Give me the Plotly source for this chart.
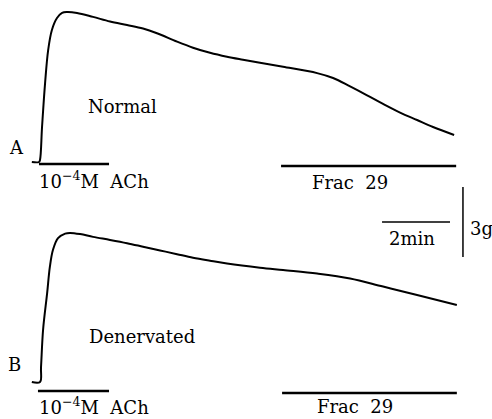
import plotly.graph_objects as go

# ---- data (time in min, tension in g) ----
t_a = [-0.24, -0.03, 0.0, 0.06, 0.15, 0.24, 0.35, 0.50, 0.65, 0.79, 1.09, 1.56, 2.06, 2.56, 3.03,
       3.44, 4.03, 4.50, 5.00, 5.50, 5.97, 6.47, 7.15, 8.15, 8.62, 9.12, 9.62, 10.09, 10.59,
       11.09, 11.56, 12.18]
g_a = [0.0, 0.0, 0.09, 1.50, 3.39, 4.80, 5.66, 6.17, 6.39, 6.43, 6.39, 6.22, 6.02, 5.87, 5.72,
       5.52, 5.16, 4.90, 4.68, 4.51, 4.38, 4.25, 4.08, 3.81, 3.60, 3.24, 2.86, 2.49, 2.12,
       1.80, 1.50, 1.16]

t_b = [-0.24, 0.0, 0.03, 0.09, 0.21, 0.29, 0.38, 0.53, 0.74, 0.88, 1.18, 1.56, 2.06, 2.56, 3.03,
       3.53, 4.03, 4.50, 5.00, 5.50, 6.47, 7.15, 8.15, 9.12, 10.09, 11.09, 12.26]
g_b = [0.0, 0.0, 0.64, 2.23, 3.81, 4.93, 5.66, 6.17, 6.36, 6.39, 6.34, 6.22, 6.09, 5.95, 5.80,
       5.64, 5.48, 5.33, 5.20, 5.08, 4.90, 4.80, 4.65, 4.44, 4.09, 3.73, 3.30]

ach_a = [-0.03, 2.03]
frac_a = [7.09, 12.24]
ach_b = [-0.06, 2.03]
frac_b = [7.12, 12.26]

scale_t = 2.0   # min
scale_g = 3.0   # g

labels = {"A": "A", "B": "B", "norm": "Normal", "den": "Denervated",
          "ach": "10<sup>−4</sup>M  ACh", "frac": "Frac  29", "min": "2min", "g": "3g"}

# ---- geometry ----
W, H = 492, 419
PXT = 34.0      # px per min
PXG = 23.33     # px per g
X0 = 40.0       # px of t=0
BASE_A, BASE_B = 162.0, 382.0

xr = [-X0 / PXT, (W - X0) / PXT]
yr_a = [(BASE_A - H) / PXG, BASE_A / PXG]
yr_b = [(BASE_B - H) / PXG, BASE_B / PXG]

FONT = "DejaVu Serif"
fig = go.Figure()

trace_line = dict(color="black", width=2, shape="spline", smoothing=1.0)
fig.add_trace(go.Scatter(x=t_a, y=g_a, mode="lines", line=trace_line, yaxis="y"))
fig.add_trace(go.Scatter(x=t_b, y=g_b, mode="lines", line=trace_line, yaxis="y2"))

bar = dict(color="black", width=2.5)
fig.add_trace(go.Scatter(x=ach_a, y=[-0.09, -0.09], mode="lines", line=bar, yaxis="y"))
fig.add_trace(go.Scatter(x=frac_a, y=[-0.17, -0.17], mode="lines", line=bar, yaxis="y"))
fig.add_trace(go.Scatter(x=ach_b, y=[-0.39, -0.39], mode="lines", line=bar, yaxis="y2"))
fig.add_trace(go.Scatter(x=frac_b, y=[-0.47, -0.47], mode="lines", line=bar, yaxis="y2"))

# scale bars (on B axis)
hs_t0 = 10.06
hs_g = 6.86
fig.add_trace(go.Scatter(x=[hs_t0, hs_t0 + scale_t], y=[hs_g, hs_g], mode="lines",
                         line=dict(color="black", width=1.5), yaxis="y2"))
vs_t = 12.44
vs_g0 = 5.36
fig.add_trace(go.Scatter(x=[vs_t, vs_t], y=[vs_g0, vs_g0 + scale_g], mode="lines",
                         line=dict(color="black", width=1.5), yaxis="y2"))

def ann(text, x, y, yref, size=18, xanchor="center"):
    fig.add_annotation(text=text, x=x, y=y, xref="x", yref=yref, showarrow=False,
                       xanchor=xanchor, yanchor="middle",
                       font=dict(family=FONT, size=size, color="black"))

ann(labels["A"], -0.68, 0.64, "y")
ann(labels["norm"], 2.44, 2.36, "y")
ann(labels["ach"], -0.09, -0.77, "y", xanchor="left")
ann(labels["frac"], 9.12, -0.86, "y")
ann(labels["B"], -0.76, 0.73, "y2")
ann(labels["den"], 3.0, 1.93, "y2")
ann(labels["ach"], -0.09, -1.03, "y2", xanchor="left")
ann(labels["frac"], 9.26, -1.07, "y2")
ann(labels["min"], 10.94, 6.13, "y2")
ann(labels["g"], 12.59, 6.56, "y2", xanchor="left")

ax = dict(visible=False, showgrid=False, zeroline=False, fixedrange=True)
fig.update_layout(
    width=W, height=H, margin=dict(l=0, r=0, t=0, b=0),
    paper_bgcolor="white", plot_bgcolor="white", showlegend=False,
    xaxis=dict(range=xr, **ax),
    yaxis=dict(range=yr_a, **ax),
    yaxis2=dict(range=yr_b, overlaying="y", **ax),
)
fig.write_html("out.html")
